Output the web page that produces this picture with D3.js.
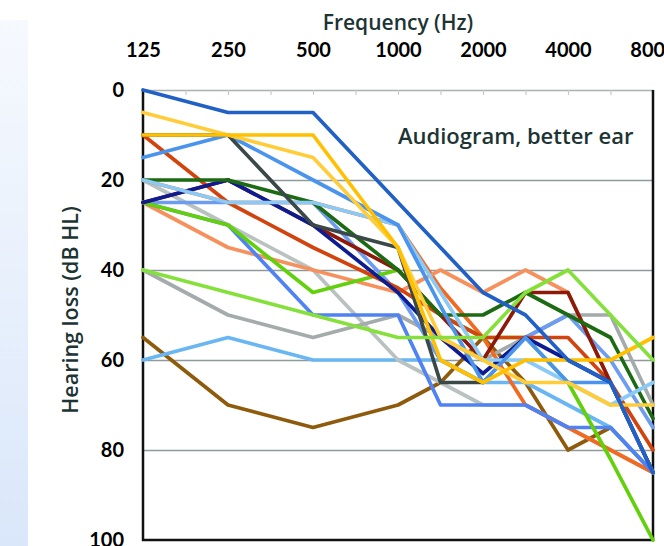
<!DOCTYPE html>
<html>
<head>
<meta charset="utf-8">
<script src="https://cdn.jsdelivr.net/npm/d3@7"></script>
<style>
  html, body { margin: 0; padding: 0; background: #fff; }
  svg { display: block; }
</style>
</head>
<body>
<div id="chart"></div>
<script>
// category slots on the x axis (every other one is labelled)
const categories = ['125', '180', '250', '375', '500', '750', '1000', '1500', '2000', '3000', '4000', '6000', '8000'];
const tickLabels = ['125', '250', '500', '1000', '2000', '4000', '8000'];
const measured = ['125', '250', '500', '1000', '1500', '2000', '3000', '4000', '6000', '8000'];
const yTicks = [0, 20, 40, 60, 80, 100];

// hearing loss (dB HL) per measured frequency
const brown = [55, 70, 75, 70, 65, 55, 65, 80, 75, 85];
const sky = [60, 55, 60, 60, 60, 65, 65, 70, 75, 85];
const lightGray = [20, 30, 40, 60, 65, 70, 70, 75, 80, 85];
const gray = [40, 50, 55, 50, 55, 60, 55, 50, 50, 70];
const orange = [20, 25, 25, 30, 44, 55, 70, 75, 80, 85];
const salmon = [25, 35, 40, 45, 40, 45, 40, 45, 65, 85];
const purpleBlue = [25, 25, 25, 45, 60, 65, 55, 50, 60, 75];
const cornflower = [25, 30, 50, 50, 70, 70, 70, 75, 75, 85];
const yellowGreen = [25, 30, 45, 40, 50, 55, 55, 65, 82, 100];
const redOrange = [10, 25, 35, 44, 50, 55, 55, 55, 65, 80];
const maroon = [25, 20, 30, 40, 50, 60, 45, 45, 65, 85];
const navy = [25, 20, 30, 45, 55, 63, 55, 60, 65, 85];
const darkGreen = [20, 20, 25, 40, 50, 50, 45, 50, 55, 73];
const skyLight = [20, 25, 25, 30, 45, 60, 60, 65, 70, 65];
const medBlue = [15, 10, 20, 30, 48, 65, 55, 65, 65, 85];
const darkSlate = [10, 10, 30, 35, 65, 65, null, null, null, null];
const lightYellow = [5, 10, 15, 35, 55, 60, 65, 65, 70, 70];
const gold = [10, 10, 10, 35, 60, 65, 60, 60, 60, 55];
const lime = [40, 45, 50, 55, 55, 55, 45, 40, 50, 60];
const royalBlue = [0, 5, 5, 25, 35, 45, 50, 60, 65, 85];

const series = [
  ['brown', brown], ['sky', sky], ['lightGray', lightGray], ['gray', gray],
  ['orange', orange], ['salmon', salmon], ['purpleBlue', purpleBlue],
  ['cornflower', cornflower], ['yellowGreen', yellowGreen], ['redOrange', redOrange],
  ['maroon', maroon], ['navy', navy], ['darkGreen', darkGreen], ['skyLight', skyLight],
  ['medBlue', medBlue], ['darkSlate', darkSlate], ['lightYellow', lightYellow],
  ['gold', gold], ['lime', lime], ['royalBlue', royalBlue],
];

const colors = {
  brown: '#8e5b0c',
  sky: '#6ab6f2',
  lightGray: '#b9c1c1',
  gray: '#a3abab',
  orange: '#f26a22',
  salmon: '#f6915e',
  purpleBlue: '#6d9cf0',
  cornflower: '#4f82f2',
  yellowGreen: '#62d00a',
  redOrange: '#d2440e',
  maroon: '#8c1a0a',
  navy: '#0d1c90',
  darkGreen: '#1c6b12',
  skyLight: '#8ccaf6',
  medBlue: '#4a94ee',
  darkSlate: '#3a4848',
  lightYellow: '#ffcd3a',
  gold: '#ffc000',
  lime: '#86e03c',
  royalBlue: '#2160c4',
};

const size = { width: 664, height: 546 };
const plot = { left: 143, right: 653, top: 90, bottom: 540 };
const textColor = '#1d3434';
const titleFont = '"Open Sans", sans-serif';

const svg = d3.select('#chart')
  .append('svg')
  .attr('width', size.width)
  .attr('height', size.height);

// pale blue strip on the left edge
const grad = svg.append('defs').append('linearGradient')
  .attr('id', 'strip')
  .attr('x1', 0).attr('y1', 0).attr('x2', 0).attr('y2', 1);
grad.append('stop').attr('offset', '0%').attr('stop-color', '#f6f9fe');
grad.append('stop').attr('offset', '100%').attr('stop-color', '#dae7fa');
svg.append('rect')
  .attr('x', 0).attr('y', 20)
  .attr('width', 28).attr('height', size.height - 20)
  .attr('fill', 'url(#strip)');

const x = d3.scalePoint().domain(categories).range([plot.left, plot.right]);
const y = d3.scaleLinear().domain([0, 100]).range([plot.top, plot.bottom]);

// horizontal gridlines
svg.append('g')
  .attr('transform', `translate(${plot.left},0)`)
  .call(d3.axisLeft(y).tickValues([20, 40, 60, 80]).tickSize(-(plot.right - plot.left)).tickFormat(''))
  .call((g) => g.select('.domain').remove())
  .call((g) => g.selectAll('line').attr('stroke', '#8f9b9b').attr('stroke-width', 1.5));

// top line with small ticks for each category
svg.append('g')
  .attr('transform', `translate(0,${plot.top})`)
  .call(d3.axisBottom(x).tickValues(categories).tickSize(5).tickSizeOuter(0).tickFormat(''))
  .call((g) => g.select('.domain').attr('stroke', '#a9b1b1').attr('stroke-width', 1.5))
  .call((g) => g.selectAll('line').attr('stroke', '#c4cbcb').attr('stroke-width', 1.2));

// frame: left, bottom, right in black
svg.append('path')
  .attr('d', `M${plot.left},${plot.top}V${plot.bottom}H${plot.right}V${plot.top}`)
  .attr('fill', 'none')
  .attr('stroke', '#111')
  .attr('stroke-width', 2.5);

// x labels on top
svg.append('g')
  .attr('transform', 'translate(0,57)')
  .call(d3.axisTop(x).tickValues(tickLabels).tickSize(0).tickPadding(0))
  .call((g) => g.select('.domain').remove())
  .call((g) => g.selectAll('text')
    .attr('fill', '#000')
    .style('font-family', 'Lato, sans-serif')
    .style('font-weight', 'bold')
    .style('font-size', '20px'));

// y labels
svg.append('g')
  .attr('transform', `translate(${plot.left},0)`)
  .call(d3.axisLeft(y).tickValues(yTicks).tickSize(0).tickPadding(19))
  .call((g) => g.select('.domain').remove())
  .call((g) => g.selectAll('text')
    .attr('fill', '#000')
    .style('font-family', 'Lato, sans-serif')
    .style('font-weight', 'bold')
    .style('font-size', '20px'));

// the audiogram lines
const line = d3.line()
  .x((d) => x(d[0]))
  .y((d) => y(d[1]));

svg.append('g')
  .selectAll('path')
  .data(series)
  .enter()
  .append('path')
  .attr('d', ([, vals]) => line(measured.map((f, i) => [f, vals[i]]).filter((p) => p[1] != null)))
  .attr('fill', 'none')
  .attr('stroke', ([name]) => colors[name])
  .attr('stroke-width', 3.7)
  .attr('stroke-linejoin', 'round')
  .attr('stroke-linecap', 'round');

// titles
svg.append('text')
  .attr('x', 398).attr('y', 30)
  .attr('text-anchor', 'middle')
  .attr('fill', textColor)
  .style('font-family', titleFont)
  .style('font-weight', 600)
  .style('font-size', '21px')
  .text('Frequency (Hz)');

svg.append('text')
  .attr('x', 398).attr('y', 144)
  .attr('fill', textColor)
  .style('font-family', titleFont)
  .style('font-weight', 600)
  .style('font-size', '22px')
  .text('Audiogram, better ear');

svg.append('text')
  .attr('transform', 'translate(78,310) rotate(-90)')
  .attr('text-anchor', 'middle')
  .attr('fill', textColor)
  .style('font-family', titleFont)
  .style('font-weight', 600)
  .style('font-size', '21.5px')
  .text('Hearing loss (dB HL)');
</script>
</body>
</html>
